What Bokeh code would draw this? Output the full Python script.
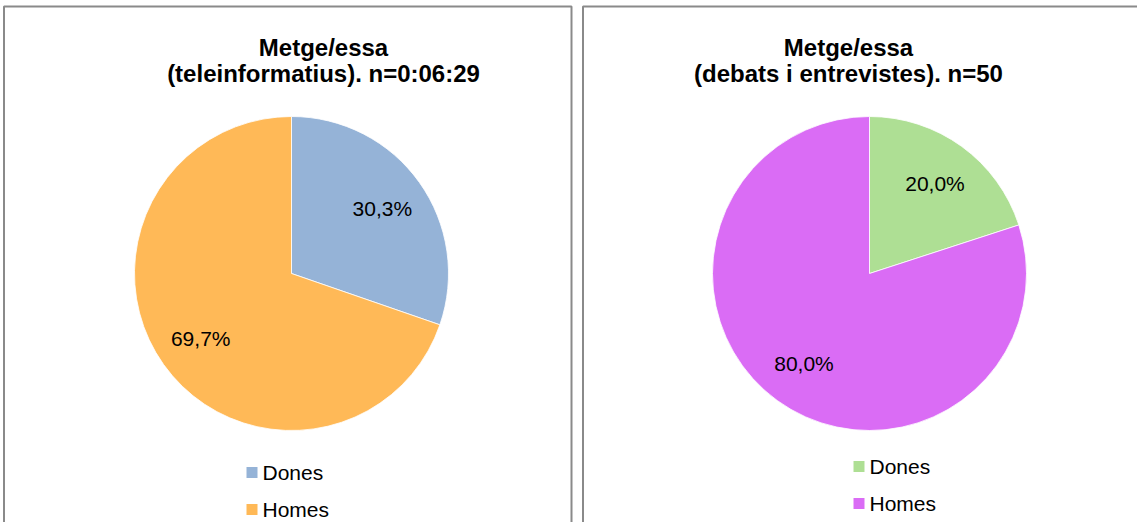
import math
from bokeh.plotting import figure
from bokeh.models import Range1d, ColumnDataSource
from bokeh.core.properties import value
from bokeh.embed import file_html
from bokeh.resources import INLINE

# ---- data ----
categories = ["Dones", "Homes"]
left_values = [30.3, 69.7]
right_values = [20.0, 80.0]
left_colors = ["#95B3D7", "#FFB957"]
right_colors = ["#AEDF94", "#DA6CF5"]
left_title = ["Metge/essa", "(teleinformatius). n=0:06:29"]
right_title = ["Metge/essa", "(debats i entrevistes). n=50"]

W, H = 1137, 522
FONT = "Liberation Sans"

p = figure(width=W, height=H, output_backend="svg", toolbar_location=None,
           x_range=Range1d(0, W), y_range=Range1d(0, H),
           min_border=0, outline_line_color=None)
p.axis.visible = False
p.grid.visible = False
p.background_fill_color = "white"
p.border_fill_color = "white"


def Y(py):
    # picture pixel y -> data y
    return H - py


# panel frames
p.quad(left=[3.5, 582.5], right=[571, 1160], top=[Y(6), Y(6)], bottom=[Y(560), Y(560)],
       fill_color=None, line_color="#8a8a8a", line_width=2)


def pie(cx, cy, r, values, colors, title, title_x, leg_x, leg_y0, leg_dy):
    total = sum(values)
    start = math.pi / 2
    starts, ends, mids = [], [], []
    for v in values:
        a = 2 * math.pi * v / total
        starts.append(start)
        ends.append(start - a)
        mids.append(start - a / 2)
        start -= a
    src = ColumnDataSource(dict(start=starts, end=ends, color=colors))
    p.wedge(x=cx, y=Y(cy), radius=r, start_angle="start", end_angle="end",
            direction="clock", fill_color="color", line_color="white",
            line_width=0.8, source=src)
    lx = [cx + 0.71 * r * math.cos(m) for m in mids]
    ly = [Y(cy) + 0.71 * r * math.sin(m) for m in mids]
    labels = [f"{v / total * 100:.1f}%".replace(".", ",") for v in values]
    p.text(x=lx, y=ly, text=labels, text_font=value(FONT), text_font_size="21px",
           text_align="center", text_baseline="middle", text_color="#000000")
    # title
    p.text(x=[title_x, title_x], y=[Y(47), Y(73)], text=title, text_font=value(FONT),
           text_font_size="24px", text_font_style="bold", text_align="center",
           text_baseline="middle", text_color="#000000")
    # legend
    ys = [Y(leg_y0 + i * leg_dy) for i in range(len(categories))]
    p.rect(x=[leg_x] * len(categories), y=ys, width=11, height=11,
           fill_color=colors, line_color=None)
    p.text(x=[leg_x + 10.5] * len(categories), y=ys, text=categories,
           text_font=value(FONT), text_font_size="21px", text_align="left",
           text_baseline="middle", text_color="#000000")


pie(291, 273, 157, left_values, left_colors, left_title, 323, 251.5, 472, 37)
pie(869, 273, 157, right_values, right_colors, right_title, 848, 858.5, 466, 37)

open("out.html", "w").write(file_html(p, INLINE))
